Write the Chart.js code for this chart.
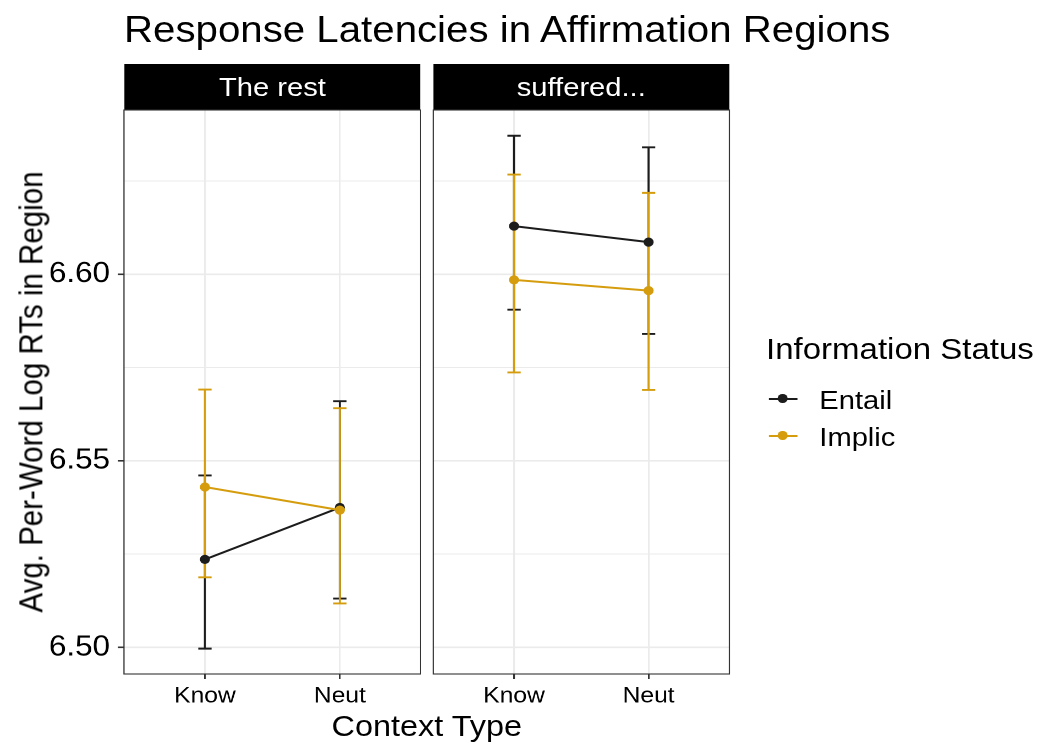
<!DOCTYPE html>
<html>
<head>
<meta charset="utf-8">
<script src="https://cdn.jsdelivr.net/npm/chart.js@4/dist/chart.umd.min.js"></script>
<style>
  html, body { margin: 0; padding: 0; background: #fff; }
  body { width: 1044px; height: 749px; overflow: hidden; position: relative; }
  #stage {
    position: absolute; left: 0; top: 0; width: 949.1px; height: 749px;
    transform: scaleX(1.1); transform-origin: 0 0;
    font-family: "Liberation Sans", Arial, Helvetica, sans-serif; color: #000;
  }
  .abs { position: absolute; white-space: nowrap; line-height: 1; }
  .strip { position: absolute; top: 64px; height: 46px; background: #000; color: #fff;
           font-size: 26.5px; display: flex; align-items: center; justify-content: center; }
  canvas { position: absolute; }
  .key { position: absolute; }
  .key .ln { position: absolute; left: 0; top: -1px; width: 26px; height: 2px; }
  .key .pt { position: absolute; left: 8.7px; top: -4.6px; width: 8.6px; height: 9.2px; border-radius: 50%; }
</style>
</head>
<body>
<div id="stage">
  <div class="abs" id="title" style="left:112.7px; top:12px; font-size:36.6px;"></div>
  <div class="strip" id="strip0" style="left:112.7px; width:269.8px;"></div>
  <div class="strip" id="strip1" style="left:393.9px; width:269.1px;"></div>
  <canvas id="c0" width="383" height="620" style="left:0px; top:100px;"></canvas>
  <canvas id="c1" width="275" height="620" style="left:390px; top:100px;"></canvas>
  <div class="abs" id="ytitle" style="left:28.2px; top:392px; font-size:29.5px; transform: translate(-50%,-50%) rotate(-90deg);"></div>
  <div class="abs" id="xtitle" style="left:388px; top:710.7px; font-size:29.5px; transform: translateX(-50%);"></div>
  <div class="abs" id="legtitle" style="left:696.4px; top:333.9px; font-size:30px;"></div>
  <div id="legend"></div>
</div>
<script>
// ---- data ----
const chartTitle = 'Response Latencies in Affirmation Regions';
const xAxisTitle = 'Context Type';
const yAxisTitle = 'Avg. Per-Word Log RTs in Region';
const legendTitle = 'Information Status';
const panels = ['The rest', 'suffered...'];
const categories = ['Know', 'Neut'];
const seriesNames = ['Entail', 'Implic'];
const seriesColors = ['#1c1c1c', '#D59D0E'];
const yTickValues = [6.500, 6.525, 6.550, 6.575, 6.600, 6.625];
const yTickLabels = ['6.50', '', '6.55', '', '6.60', ''];
const yMin = 6.4929, yMax = 6.6440;

// panel "The rest"
const restEntailMean = [6.5236, 6.5375];
const restEntailLow  = [6.4997, 6.5131];
const restEntailHigh = [6.5461, 6.5660];
const restImplicMean = [6.5430, 6.5368];
const restImplicLow  = [6.5188, 6.5118];
const restImplicHigh = [6.5691, 6.5641];
// panel "suffered..."
const suffEntailMean = [6.6129, 6.6086];
const suffEntailLow  = [6.5905, 6.5840];
const suffEntailHigh = [6.6371, 6.6340];
const suffImplicMean = [6.5985, 6.5956];
const suffImplicLow  = [6.5737, 6.5690];
const suffImplicHigh = [6.6267, 6.6218];

const panelData = [
  { mean: [restEntailMean, restImplicMean], low: [restEntailLow, restImplicLow], high: [restEntailHigh, restImplicHigh] },
  { mean: [suffEntailMean, suffImplicMean], low: [suffEntailLow, suffImplicLow], high: [suffEntailHigh, suffImplicHigh] }
];

// ---- text ----
document.getElementById('title').textContent = chartTitle;
document.getElementById('xtitle').textContent = xAxisTitle;
document.getElementById('ytitle').textContent = yAxisTitle;
document.getElementById('legtitle').textContent = legendTitle;
panels.forEach((p, i) => document.getElementById('strip' + i).textContent = p);

// legend
const legendYs = [398.5, 435.5];
const leg = document.getElementById('legend');
seriesNames.forEach((name, i) => {
  const k = document.createElement('div');
  k.className = 'key';
  k.style.left = '698.5px';
  k.style.top = legendYs[i] + 'px';
  k.innerHTML = '<div class="ln" style="background:' + seriesColors[i] + '"></div><div class="pt" style="background:' + seriesColors[i] + '"></div>';
  leg.appendChild(k);
  const t = document.createElement('div');
  t.className = 'abs';
  t.style.left = '744.8px';
  t.style.fontSize = '26.5px';
  t.style.top = (legendYs[i] + 10.5 - 0.8465 * 26.5) + 'px';
  t.textContent = name;
  leg.appendChild(t);
});

// ---- charts ----
const FONT = '"Liberation Sans", Arial, Helvetica, sans-serif';
const xPositions = categories.map((c, i) => i + 1);

const errorBarPlugin = {
  id: 'errorBars',
  beforeDatasetsDraw(chart) {
    const pd = chart.options.plugins.errorBars.data;
    const xs = chart.scales.x, ys = chart.scales.y;
    const ctx = chart.ctx;
    ctx.save();
    seriesNames.forEach((s, si) => {
      ctx.strokeStyle = seriesColors[si];
      ctx.lineWidth = 1.9;
      ctx.lineCap = 'butt';
      xPositions.forEach((xv, ci) => {
        const x = xs.getPixelForValue(xv);
        const yl = ys.getPixelForValue(pd.low[si][ci]);
        const yh = ys.getPixelForValue(pd.high[si][ci]);
        const hw = 6.05;
        ctx.beginPath();
        ctx.moveTo(x, yl); ctx.lineTo(x, yh);
        ctx.moveTo(x - hw, yl); ctx.lineTo(x + hw, yl);
        ctx.moveTo(x - hw, yh); ctx.lineTo(x + hw, yh);
        ctx.stroke();
      });
    });
    ctx.restore();
  },
  afterDraw(chart) {
    const a = chart.chartArea, ctx = chart.ctx;
    ctx.save();
    ctx.strokeStyle = '#333333';
    ctx.lineWidth = 1.1;
    ctx.strokeRect(a.left, a.top, a.right - a.left, a.bottom - a.top);
    ctx.restore();
  }
};

function makeChart(id, pi, showY, yAxisWidth, padRight) {
  const pd = panelData[pi];
  const datasets = seriesNames.map((s, si) => ({
    label: s,
    data: xPositions.map((xv, ci) => ({ x: xv, y: pd.mean[si][ci] })),
    borderColor: seriesColors[si],
    backgroundColor: seriesColors[si],
    borderWidth: 2,
    pointRadius: 4.6,
    pointBorderWidth: 0,
    pointHoverRadius: 4.6,
    tension: 0,
    order: seriesNames.length - si
  }));
  return new Chart(document.getElementById(id), {
    type: 'line',
    data: { datasets },
    plugins: [errorBarPlugin],
    options: {
      responsive: false,
      devicePixelRatio: 2,
      animation: false,
      layout: { autoPadding: false, padding: { top: 10, right: padRight, left: 0, bottom: 0 } },
      plugins: {
        legend: { display: false },
        tooltip: { enabled: false },
        errorBars: { data: pd }
      },
      scales: {
        x: {
          type: 'linear', min: 0.4, max: 2.6,
          afterBuildTicks: (ax) => { ax.ticks = xPositions.map(v => ({ value: v })); },
          afterFit: (ax) => { ax.height = 46; ax.paddingLeft = 0; ax.paddingRight = 0; },
          ticks: {
            callback: (v, i) => categories[i],
            color: '#000', font: { family: FONT, size: 22.4 }, padding: 4,
            maxRotation: 0, autoSkip: false
          },
          grid: { color: '#ebebeb', lineWidth: 1.6, tickColor: '#333333', tickLength: 5, drawTicks: true },
          border: { display: false }
        },
        y: {
          type: 'linear', min: yMin, max: yMax,
          afterBuildTicks: (ax) => { ax.ticks = yTickValues.map(v => ({ value: v })); },
          afterFit: (ax) => { ax.width = yAxisWidth; ax.paddingTop = 0; ax.paddingBottom = 0; },
          ticks: {
            display: showY,
            callback: (v, i) => yTickLabels[i],
            color: '#000', font: { family: FONT, size: 28.5 }, padding: 7.2,
            autoSkip: false
          },
          grid: {
            color: '#ebebeb',
            lineWidth: (c) => (c.index % 2 === 0 ? 1.6 : 0.9),
            tickColor: (c) => (showY && c.index % 2 === 0 ? '#333333' : 'rgba(0,0,0,0)'),
            tickLength: 5.5,
            drawTicks: showY
          },
          border: { display: false }
        }
      }
    }
  });
}

makeChart('c0', 0, true, 112.7, 0.5);
makeChart('c1', 1, false, 3.9, 2);
</script>
</body>
</html>
